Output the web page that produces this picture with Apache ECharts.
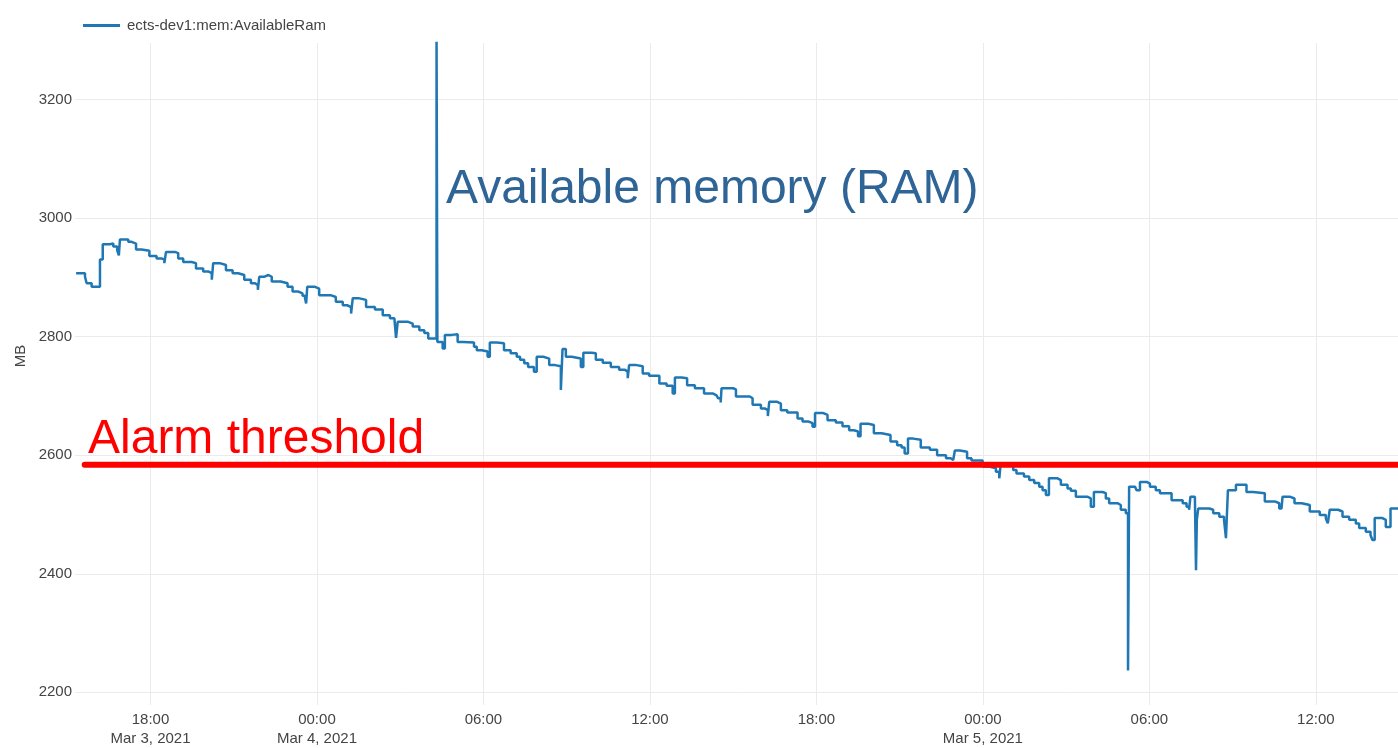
<!DOCTYPE html>
<html>
<head>
<meta charset="utf-8">
<title>ects-dev1:mem:AvailableRam</title>
<script src="https://cdn.jsdelivr.net/npm/echarts@6.0.0/dist/echarts.min.js"></script>
<style>
  html, body { margin: 0; padding: 0; background: #fff; }
  #chart { width: 1398px; height: 748px; }
</style>
</head>
<body>
<div id="chart"></div>
<script>
// x values are hours counted from Mar 3, 2021 00:00
const hours = [
  15.32, 15.64, 15.70, 15.88, 16.18, 16.28, 16.54, 16.66, 16.80, 16.86,
  16.90, 17.20, 17.32, 17.48, 17.68, 17.96, 18.22, 18.40, 18.50, 18.56,
  18.88, 19.00, 19.18, 19.48, 19.64, 19.90, 20.08, 20.21, 20.26, 20.50,
  20.72, 20.96, 21.16, 21.38, 21.62, 21.77, 21.87, 21.92, 22.09, 22.25,
  22.37, 22.69, 22.94, 23.12, 23.33, 23.48, 23.57, 23.61, 23.65, 23.93,
  24.08, 24.49, 24.68, 24.93, 25.09, 25.23, 25.29, 25.49, 25.77, 26.09,
  26.37, 26.63, 26.79, 26.85, 26.91, 27.29, 27.45, 27.69, 27.87, 28.01,
  28.31, 28.34, 28.53, 28.61, 28.85, 29.07, 29.27, 29.66, 29.76, 29.94,
  30.15, 30.23, 30.48, 30.74, 30.98, 31.20, 31.32, 31.47, 31.61, 31.82,
  31.92, 32.16, 32.37, 32.58, 32.79, 32.85, 32.97, 33.18, 33.51, 33.60,
  33.90, 34.05, 34.30, 34.59, 34.89, 35.10, 35.20, 35.25, 35.52, 35.74,
  35.97, 36.34, 36.60, 36.82, 36.90, 37.14, 37.34, 37.62, 37.95, 38.28,
  38.40, 38.46, 38.55, 38.58, 39.00, 39.10, 39.60, 39.70, 40.00, 40.14,
  40.25, 40.30, 40.59, 40.72, 40.95, 41.32, 41.50, 41.70, 41.86, 41.95,
  42.25, 42.40, 42.70, 42.94, 43.18, 43.35, 43.50, 43.59, 43.87, 44.07,
  44.35, 44.67, 44.91, 45.07, 45.18, 45.30, 45.49, 45.76, 46.09, 46.35,
  46.67, 46.84, 46.93, 46.99, 47.17, 47.43, 47.59, 47.99, 48.23, 48.47,
  48.59, 48.64, 49.09, 49.21, 49.48, 49.67, 49.85, 50.03, 50.15, 50.27,
  50.38, 50.69, 50.81, 51.05, 51.17, 51.35, 51.76, 51.89, 52.00, 52.31,
  52.43, 52.55, 52.85, 52.97, 53.15, 53.23, 53.27, 53.48, 53.54, 53.66,
  53.90, 54.02, 54.23, 54.38, 54.80, 55.20, 55.34, 55.43, 55.48, 55.64,
  55.68, 55.71, 55.76, 56.16, 56.30, 56.52, 56.69, 56.76, 56.83, 57.12,
  57.50, 57.74, 58.16, 58.52, 58.68, 58.76, 58.80, 59.06, 59.23, 59.49,
  59.78, 60.14, 60.36, 60.43, 60.50, 60.80, 60.96, 61.20, 61.44, 61.56,
  61.80, 61.97, 62.04, 62.12, 62.40, 62.52, 62.69, 62.99
];
const ramMB = [
  2907, 2901, 2890, 2884, 2930, 2956, 2957, 2952, 2946, 2937,
  2964, 2960, 2957, 2947, 2945, 2936, 2932, 2930, 2924, 2943,
  2941, 2932, 2926, 2924, 2915, 2910, 2907, 2896, 2924, 2921,
  2912, 2907, 2904, 2896, 2890, 2887, 2879, 2901, 2904, 2901,
  2893, 2890, 2884, 2876, 2873, 2869, 2865, 2856, 2884, 2881,
  2870, 2867, 2859, 2853, 2850, 2839, 2865, 2862, 2850, 2846,
  2836, 2831, 2828, 2798, 2825, 2822, 2817, 2811, 2806, 2797,
  3300, 2791, 2780, 2803, 2804, 2791, 2790, 2783, 2777, 2775,
  2766, 2790, 2789, 2777, 2772, 2766, 2761, 2755, 2749, 2741,
  2766, 2763, 2752, 2750, 2710, 2779, 2766, 2763, 2749, 2773,
  2772, 2761, 2756, 2749, 2744, 2741, 2730, 2752, 2750, 2738,
  2734, 2721, 2717, 2704, 2731, 2730, 2718, 2713, 2704, 2701,
  2699, 2696, 2689, 2713, 2711, 2699, 2696, 2685, 2679, 2676,
  2666, 2690, 2687, 2676, 2672, 2662, 2657, 2654, 2648, 2671,
  2668, 2659, 2655, 2649, 2642, 2640, 2632, 2653, 2651, 2637,
  2634, 2623, 2617, 2613, 2603, 2628, 2626, 2613, 2609, 2600,
  2595, 2592, 2589, 2608, 2606, 2595, 2591, 2581, 2578, 2572,
  2561, 2585, 2575, 2569, 2564, 2558, 2553, 2547, 2541, 2533,
  2561, 2558, 2550, 2544, 2540, 2530, 2527, 2513, 2538, 2536,
  2527, 2519, 2516, 2508, 2502, 2237, 2547, 2544, 2541, 2555,
  2552, 2547, 2541, 2536, 2524, 2519, 2513, 2508, 2530, 2527,
  2406, 2491, 2510, 2508, 2502, 2496, 2491, 2460, 2541, 2550,
  2538, 2536, 2522, 2519, 2510, 2508, 2530, 2527, 2519, 2516,
  2505, 2499, 2493, 2485, 2508, 2505, 2496, 2491, 2485, 2477,
  2471, 2465, 2457, 2494, 2491, 2479, 2510, 2509
];
const yTicks = [2200, 2400, 2600, 2800, 3000, 3200];
const xTicks = [18, 24, 30, 36, 42, 48, 54, 60];
const alarmThreshold = 2584;
const alarmStart = 15.63;
const xMin = 15.28, xMax = 62.96;
const yMin = 2178.6, yMax = 3295.4;

const seriesName = 'ects-dev1:mem:AvailableRam';
const textColor = '#444';
const gridColor = '#ebebeb';
const baseFont = 'Liberation Sans, Arial, sans-serif';

function xLabel(h) {
    const hh = String(Math.round(h) % 24).padStart(2, '0') + ':00';
    if (h === xTicks[0] || Math.round(h) % 24 === 0) {
        const day = 3 + Math.floor(Math.round(h) / 24);
        return hh + '\nMar ' + day + ', 2021';
    }
    return hh;
}

const chart = echarts.init(document.getElementById('chart'), null, { renderer: 'canvas' });
chart.setOption({
    animation: false,
    backgroundColor: '#fff',
    textStyle: { fontFamily: baseFont },
    grid: { left: 75, right: 0, top: 43, bottom: 43, containLabel: false },
    legend: {
        data: [{ name: seriesName, icon: 'rect' }],
        left: 78,
        top: 13,
        itemWidth: 37,
        itemHeight: 3,
        textStyle: { color: textColor, fontSize: 15, fontFamily: baseFont, padding: [0, 0, 0, 2] }
    },
    xAxis: {
        type: 'value',
        min: xMin,
        max: xMax,
        axisLine: { show: false },
        axisTick: { show: false, customValues: xTicks },
        axisLabel: {
            customValues: xTicks,
            formatter: xLabel,
            color: textColor,
            fontSize: 15,
            lineHeight: 19,
            margin: 5,
            fontFamily: baseFont
        },
        splitLine: { show: true, lineStyle: { color: gridColor, width: 1 } }
    },
    yAxis: {
        type: 'value',
        min: yMin,
        max: yMax,
        axisLine: { show: false },
        axisTick: { show: false, customValues: yTicks },
        axisLabel: {
            customValues: yTicks,
            formatter: v => String(v),
            color: textColor,
            fontSize: 15,
            margin: 3,
            fontFamily: baseFont
        },
        splitLine: { show: true, lineStyle: { color: gridColor, width: 1 } }
    },
    series: [
        {
            name: seriesName,
            type: 'line',
            step: 'end',
            showSymbol: false,
            symbol: 'none',
            data: hours.map((h, i) => [h, ramMB[i]]),
            lineStyle: { color: '#1f77b4', width: 2.5 },
            itemStyle: { color: '#1f77b4' },
            z: 2
        },
        {
            name: 'Alarm threshold',
            type: 'line',
            symbol: 'none',
            data: [[alarmStart, alarmThreshold], [xMax, alarmThreshold]],
            lineStyle: { color: '#ff0000', width: 6, cap: 'round' },
            z: 3
        }
    ],
    graphic: [
        {
            type: 'text',
            left: 446,
            top: 166,
            z: 10,
            style: {
                text: 'Available memory (RAM)',
                fill: '#2f6497',
                font: '48px Liberation Sans, Arial, sans-serif'
            }
        },
        {
            type: 'text',
            left: 88,
            top: 416,
            z: 10,
            style: {
                text: 'Alarm threshold',
                fill: '#ff0000',
                font: '48px Liberation Sans, Arial, sans-serif'
            }
        },
        {
            type: 'text',
            x: 21,
            y: 356,
            rotation: Math.PI / 2,
            z: 10,
            style: {
                text: 'MB',
                fill: textColor,
                font: '15px Liberation Sans, Arial, sans-serif',
                align: 'center',
                verticalAlign: 'middle'
            }
        }
    ]
});
</script>
</body>
</html>
